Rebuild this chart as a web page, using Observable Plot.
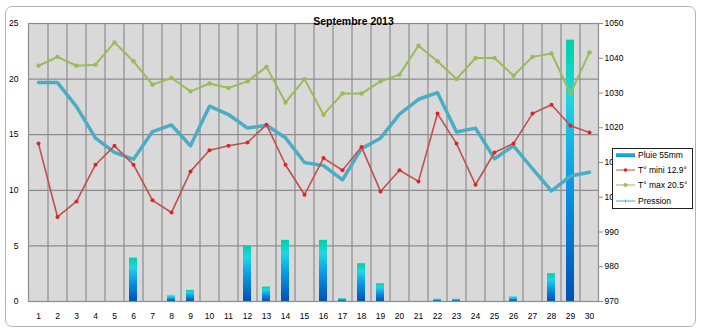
<!DOCTYPE html>
<html><head><meta charset="utf-8">
<script src="https://cdn.jsdelivr.net/npm/d3@7"></script>
<script src="https://cdn.jsdelivr.net/npm/@observablehq/plot@0.6"></script>
<style>
body{margin:0;background:#fff;}
#wrap{position:relative;width:704px;height:334px;overflow:hidden;}
#border{position:absolute;left:5px;top:6px;width:689px;height:319px;border:1px solid #b4b4b4;border-radius:7px;pointer-events:none;}
#legend{position:absolute;left:612px;top:148px;width:79px;height:59px;border:1px solid #222;background:#fff;font:8.5px "Liberation Sans",Arial,sans-serif;color:#000;}
.row{position:absolute;left:3px;height:12px;display:flex;align-items:center;white-space:nowrap;}
.row svg{margin-right:3px;}
#chart{position:absolute;left:0;top:0;}
</style></head>
<body><div id="wrap"><div id="chart"></div><div id="border"></div><div id="legend"></div></div>
<script>
const days = [1,2,3,4,5,6,7,8,9,10,11,12,13,14,15,16,17,18,19,20,21,22,23,24,25,26,27,28,29,30];
const rain = [0,0,0,0,0,3.9,0,0.5,1.0,0,0,5.0,1.3,5.5,0,5.5,0.25,3.4,1.6,0,0,0.2,0.2,0,0,0.4,0,2.5,23.5,0];
const tmin = [14.2,7.6,9.0,12.3,14.0,12.3,9.1,8.0,11.7,13.6,14.0,14.3,15.9,12.3,9.6,12.9,11.8,13.9,9.9,11.8,10.8,16.9,14.2,10.5,13.4,14.2,16.9,17.7,15.8,15.2];
const tmax = [21.2,22.0,21.2,21.3,23.3,21.6,19.5,20.1,18.9,19.6,19.2,19.8,21.1,17.9,20.0,16.8,18.7,18.7,19.8,20.4,23.0,21.6,20.0,21.9,21.9,20.3,22.0,22.3,18.7,22.4];
const pression = [1033.0,1033.0,1026.1,1017.0,1012.9,1010.9,1018.9,1020.8,1014.8,1026.2,1023.8,1019.9,1020.7,1017.1,1010.0,1009.1,1005.0,1014.0,1017.0,1023.9,1028.2,1030.1,1018.8,1019.9,1011.1,1014.8,1008.2,1001.8,1006.1,1007.2];
const leftTicks = [0,5,10,15,20,25];
const gridTicks = [5,10,15,20];
const pressTicks = [970,980,990,1000,1010,1020,1030,1040,1050];
const title = "Septembre 2013";
const legendLabels = ["Pluie 55mm","T° mini 12.9°","T° max 20.5°","Pression"];

const pMin = 970, pMax = 1050, yMax = 25;
const pToY = p => (p - pMin) * yMax / (pMax - pMin);
const yToP = y => String(Math.round(y * (pMax - pMin) / yMax + pMin));

const rows = days.map((d,i) => ({day:d, rain:rain[i], tmin:tmin[i], tmax:tmax[i], p:pression[i]}));
const font = '"Liberation Sans", Arial, sans-serif';

const chart = Plot.plot({
  width: 704, height: 334,
  marginLeft: 28, marginRight: 106, marginTop: 23, marginBottom: 33,
  style: {fontFamily: font, fontSize: "8.5px", background: "transparent", color:"#000"},
  x: {type:"band", domain: days, paddingInner: 0.6, paddingOuter: 0.3, label: null},
  y: {domain: [0, yMax], label: null},
  marks: [
    Plot.frame({fill:"#d9d9d9", stroke:"none"}),
    Plot.gridY(gridTicks, {stroke:"#8c8c8c", strokeOpacity:1, strokeWidth:1.2}),
    Plot.gridX(days.slice(0,29), {stroke:"#8c8c8c", strokeOpacity:1, strokeWidth:1.2, dx: 9.5}),
    Plot.barY(rows.filter(d => d.rain > 0), {x:"day", y:"rain", fill:"url(#rainGrad)"}),
    Plot.line(rows, {x:"day", y:d => pToY(d.p), stroke:"#4bacc6", strokeWidth:3.5}),
    Plot.line(rows, {x:"day", y:"tmax", stroke:"#9bbb59", strokeWidth:2}),
    Plot.dot(rows, {x:"day", y:"tmax", fill:"#9bbb59", r:2.2}),
    Plot.line(rows, {x:"day", y:"tmin", stroke:"#c0504d", strokeWidth:1.6}),
    Plot.dot(rows, {x:"day", y:"tmin", fill:"#e8201c", r:2}),
    Plot.frame({stroke:"#8c8c8c", strokeWidth:1.2}),
    Plot.axisX({tickSize:0, tickPadding:11, fontSize:8.5}),
    Plot.axisY(leftTicks, {anchor:"left", tickSize:0, tickPadding:10, fontSize:8.5}),
    Plot.axisY(pressTicks.map(pToY), {anchor:"right", tickSize:4, tickPadding:2, stroke:"#8c8c8c", tickFormat: yToP, fontSize:8.5}),
    Plot.text([title], {frameAnchor:"top-left", dx: 325, dy:-5.5, text:d=>d, fontWeight:"bold", fontSize:10.5, textAnchor:"middle", fill:"#000"})
  ]
});

d3.select(chart).insert("defs", ":first-child").html(
  '<linearGradient id="rainGrad" x1="0" y1="0" x2="0" y2="1">' +
  '<stop offset="0" stop-color="#00cfa6"/>' +
  '<stop offset="0.22" stop-color="#1fd6e2"/>' +
  '<stop offset="0.55" stop-color="#0a98e4"/>' +
  '<stop offset="1" stop-color="#0050b4"/>' +
  '</linearGradient>');

document.getElementById("chart").appendChild(chart);

const legend = document.getElementById("legend");
const swatches = [
  '<svg width="19" height="8"><rect x="0" y="2" width="19" height="4" fill="#1a9ad8"/><rect x="0" y="2" width="19" height="1.5" fill="#2ec3ea"/></svg>',
  '<svg width="19" height="8"><line x1="0" y1="4" x2="19" y2="4" stroke="#c0504d" stroke-width="1"/><circle cx="9.5" cy="4" r="1.8" fill="#e8201c"/></svg>',
  '<svg width="19" height="8"><line x1="0" y1="4" x2="19" y2="4" stroke="#b5d08a" stroke-width="1.5"/><circle cx="9.5" cy="4" r="2" fill="#9bbb59"/></svg>',
  '<svg width="19" height="8"><line x1="0" y1="4" x2="19" y2="4" stroke="#4bacc6" stroke-width="1"/><line x1="9.5" y1="2.5" x2="9.5" y2="5.5" stroke="#4bacc6" stroke-width="1"/></svg>'
];
const rowTops = [0, 15, 30, 46];
legendLabels.forEach((lab, i) => {
  const r = document.createElement("div");
  r.className = "row";
  r.style.top = rowTops[i] + "px";
  r.innerHTML = swatches[i] + '<span>' + lab + '</span>';
  legend.appendChild(r);
});
</script>
</body></html>
